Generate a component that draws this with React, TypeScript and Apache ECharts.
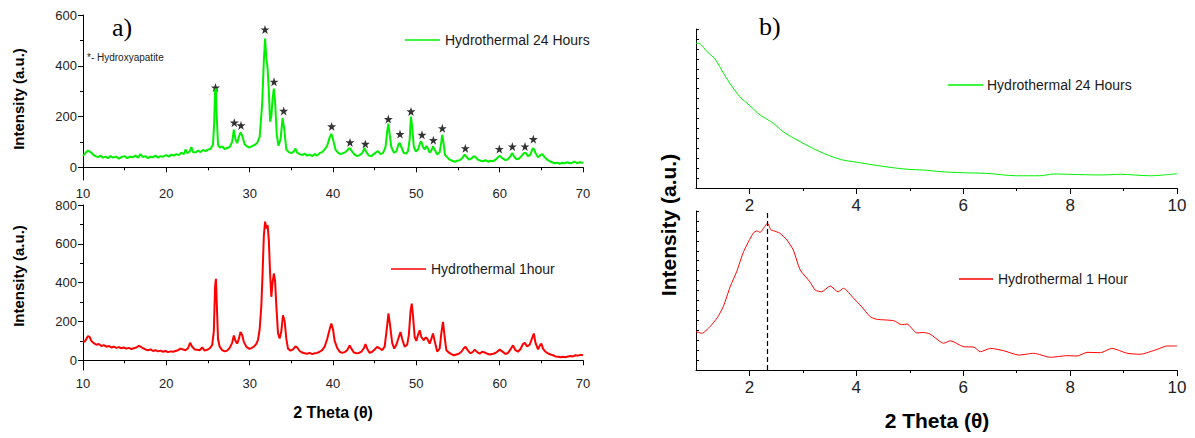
import React, { useEffect, useRef } from "react";
import * as echarts from "echarts";

// ---- Data ----
const xrd24h: [number, number][] = [
  [10.0,45],[10.2,52],[10.4,60],[10.6,66],[10.8,62],[11.0,58],[11.2,50],[11.5,44],[11.8,40],[12.1,46],[12.4,38],[12.7,42],[13.0,36],[13.3,44],[13.6,38],[14.0,42],[14.3,34],[14.6,40],[15.0,44],[15.3,36],[15.6,42],[16.0,40],[16.3,46],[16.6,38],[16.9,52],[17.2,40],[17.5,44],[17.8,36],[18.1,42],[18.4,40],[18.7,46],[19.0,38],[19.3,44],[19.6,42],[20.0,48],[20.3,42],[20.6,50],[20.9,46],[21.2,52],[21.5,48],[21.8,58],[22.1,52],[22.3,70],[22.5,56],[22.8,62],[23.0,80],[23.2,60],[23.5,58],[23.8,66],[24.1,60],[24.4,68],[24.7,64],[25.0,70],[25.3,72],[25.6,90],[25.75,180],[25.85,300],[25.95,310],[26.05,200],[26.2,90],[26.4,78],[26.7,82],[27.0,72],[27.3,76],[27.6,80],[27.9,100],[28.1,148],[28.3,110],[28.5,95],[28.7,120],[28.9,138],[29.1,125],[29.4,90],[29.7,82],[30.0,78],[30.3,84],[30.6,88],[30.9,96],[31.2,120],[31.5,250],[31.7,420],[31.85,507],[32.0,430],[32.15,390],[32.3,300],[32.45,180],[32.6,200],[32.75,270],[32.9,310],[33.05,260],[33.25,130],[33.45,85],[33.7,110],[33.95,194],[34.15,150],[34.4,70],[34.7,60],[35.0,56],[35.3,62],[35.5,74],[35.7,58],[36.0,52],[36.3,48],[36.6,54],[36.9,46],[37.2,50],[37.5,44],[37.8,52],[38.1,46],[38.4,56],[38.7,60],[39.0,70],[39.3,85],[39.6,118],[39.8,132],[40.0,110],[40.3,70],[40.6,58],[40.9,52],[41.2,56],[41.5,60],[41.8,70],[42.0,76],[42.3,62],[42.6,50],[42.9,44],[43.2,48],[43.5,56],[43.8,76],[44.0,60],[44.3,46],[44.6,44],[44.9,52],[45.2,60],[45.4,64],[45.7,52],[46.0,56],[46.3,80],[46.5,140],[46.65,172],[46.8,130],[47.0,80],[47.3,58],[47.6,62],[47.85,90],[48.0,96],[48.2,80],[48.5,56],[48.8,54],[49.0,64],[49.2,110],[49.35,200],[49.5,160],[49.7,80],[49.95,62],[50.2,70],[50.45,96],[50.6,102],[50.8,80],[51.0,70],[51.2,84],[51.4,74],[51.6,58],[51.8,66],[52.0,82],[52.2,70],[52.5,50],[52.8,60],[53.0,100],[53.1,128],[53.25,100],[53.45,48],[53.7,40],[54.0,30],[54.3,26],[54.6,22],[54.9,26],[55.2,28],[55.5,36],[55.8,50],[56.0,42],[56.3,30],[56.6,34],[56.9,44],[57.1,40],[57.4,30],[57.7,26],[58.0,24],[58.3,28],[58.6,22],[58.9,26],[59.2,24],[59.5,30],[59.8,40],[60.0,46],[60.3,36],[60.7,28],[61.0,32],[61.3,44],[61.5,56],[61.7,44],[62.0,32],[62.3,34],[62.6,44],[62.9,56],[63.1,58],[63.4,44],[63.7,50],[63.9,70],[64.05,76],[64.3,56],[64.6,40],[64.9,48],[65.1,52],[65.4,40],[65.7,30],[66.0,24],[66.3,20],[66.6,16],[66.9,18],[67.2,14],[67.5,18],[67.8,16],[68.1,20],[68.4,16],[68.7,18],[69.0,22],[69.3,16],[69.6,20],[70.0,18]
];

const xrd1h: [number, number][] = [
  [10.0,100],[10.2,95],[10.4,110],[10.6,125],[10.8,120],[11.0,100],[11.3,88],[11.6,80],[11.9,84],[12.2,74],[12.5,78],[12.8,70],[13.1,74],[13.4,66],[13.7,70],[14.0,64],[14.3,68],[14.6,62],[14.9,66],[15.2,60],[15.5,64],[15.8,58],[16.1,62],[16.4,66],[16.7,74],[16.9,70],[17.2,62],[17.5,56],[17.8,52],[18.1,56],[18.4,48],[18.7,52],[19.0,46],[19.3,50],[19.6,44],[19.9,48],[20.2,42],[20.5,46],[20.8,44],[21.1,48],[21.4,52],[21.7,60],[22.0,56],[22.3,52],[22.6,62],[22.85,90],[23.1,70],[23.4,56],[23.7,54],[24.0,52],[24.3,66],[24.6,50],[24.9,54],[25.2,62],[25.5,78],[25.7,150],[25.85,380],[25.95,420],[26.05,300],[26.2,110],[26.4,70],[26.7,52],[27.0,46],[27.3,50],[27.6,64],[27.9,90],[28.1,128],[28.3,100],[28.5,86],[28.7,110],[28.9,146],[29.1,130],[29.3,95],[29.6,70],[29.9,60],[30.2,62],[30.5,70],[30.8,85],[31.0,105],[31.2,160],[31.4,280],[31.55,450],[31.7,640],[31.85,714],[32.0,680],[32.15,697],[32.3,619],[32.45,450],[32.6,327],[32.75,400],[32.9,447],[33.05,410],[33.2,280],[33.4,140],[33.6,112],[33.8,150],[34.0,232],[34.2,200],[34.4,110],[34.6,60],[34.9,50],[35.2,56],[35.5,72],[35.7,66],[36.0,48],[36.3,40],[36.6,36],[36.9,34],[37.2,38],[37.5,32],[37.8,36],[38.1,38],[38.4,44],[38.7,52],[39.0,70],[39.3,110],[39.6,160],[39.8,190],[40.0,160],[40.2,100],[40.5,64],[40.8,44],[41.1,38],[41.4,42],[41.7,52],[42.0,77],[42.2,60],[42.5,40],[42.8,36],[43.1,38],[43.4,44],[43.7,62],[43.9,83],[44.1,60],[44.4,38],[44.7,44],[45.0,56],[45.3,69],[45.6,62],[45.9,52],[46.2,70],[46.45,160],[46.65,241],[46.85,180],[47.1,90],[47.35,60],[47.6,80],[47.9,120],[48.1,146],[48.3,110],[48.6,70],[48.9,80],[49.1,130],[49.3,250],[49.45,292],[49.6,230],[49.8,120],[50.0,100],[50.2,130],[50.4,155],[50.6,120],[50.9,103],[51.1,118],[51.3,112],[51.6,86],[51.8,110],[52.0,138],[52.2,100],[52.5,45],[52.8,60],[53.0,140],[53.2,198],[53.4,120],[53.6,52],[53.9,40],[54.2,32],[54.5,26],[54.8,30],[55.1,34],[55.4,44],[55.7,62],[55.9,69],[56.2,50],[56.5,36],[56.8,44],[57.0,55],[57.3,42],[57.6,34],[57.9,44],[58.2,40],[58.5,34],[58.8,30],[59.1,32],[59.4,36],[59.7,44],[60.0,55],[60.3,46],[60.7,32],[61.0,38],[61.3,56],[61.6,77],[61.9,52],[62.2,44],[62.5,58],[62.8,84],[63.0,90],[63.3,72],[63.6,80],[63.9,115],[64.1,138],[64.3,90],[64.6,56],[64.8,74],[65.0,86],[65.2,60],[65.5,44],[65.8,36],[66.1,30],[66.4,26],[66.7,20],[67.0,18],[67.3,16],[67.6,18],[67.9,16],[68.2,20],[68.5,22],[68.8,20],[69.1,26],[69.4,24],[69.7,28],[70.0,26]
];

// Hydroxyapatite peak markers (2θ, marker level)
const hapMarkers: [number, number][] = [
  [25.9,314],[28.16,176],[28.96,165],[31.84,543],[32.92,337],[34.08,222],[39.84,161],[42.04,98],[43.88,92],[46.64,190],[48.04,131],[49.36,220],[50.68,128],[52.04,107],[53.12,154],[55.88,75],[59.96,72],[61.52,82],[63.04,82],[64.04,111]
];

// Small-angle patterns (arbitrary units, 0-100)
const saxs24h: [number, number][] = [
  [1.0,91],[1.05,91],[1.2,86],[1.33,82],[1.38,80],[1.5,73],[1.63,66],[1.82,57.4],[2.0,52],[2.2,45.9],[2.45,40.7],[2.63,35.4],[2.95,29.1],[3.32,22.8],[3.7,18.0],[4.01,16.2],[4.32,14.5],[4.63,13.0],[4.95,11.8],[5.26,11.3],[5.57,10.3],[6.0,9.6],[6.44,9.2],[7.0,7.7],[7.44,7.7],[7.69,8.8],[8.0,8.6],[8.57,8.2],[8.94,8.6],[9.5,7.7],[10.0,9.0]
];

const saxs1h: [number, number][] = [
  [1.0,24.1],[1.11,23.1],[1.26,27.2],[1.4,33],[1.51,39.8],[1.64,52.4],[1.76,61.8],[1.89,74.4],[2.07,86.0],[2.14,87.5],[2.2,86.5],[2.25,88.5],[2.34,92.3],[2.4,88.1],[2.45,87.6],[2.57,86.0],[2.7,81.8],[2.82,75.5],[2.95,62.9],[3.13,55.5],[3.23,50.3],[3.35,49.2],[3.51,52.8],[3.66,49.2],[3.76,51.4],[3.95,45.1],[4.1,39.8],[4.26,33.5],[4.38,31.9],[4.7,31.0],[4.85,28.5],[4.95,28.9],[5.13,23.3],[5.25,23.6],[5.38,22.6],[5.57,17.8],[5.63,16.8],[5.76,18.4],[6.0,14.7],[6.2,14.4],[6.32,11.5],[6.51,13.6],[6.76,12.1],[7.04,9.4],[7.32,10.5],[7.63,8.0],[7.94,9.0],[8.13,8.8],[8.32,11.1],[8.57,10.9],[8.78,13.6],[9.07,10.5],[9.31,9.9],[9.63,13.0],[9.81,15.1],[10.0,15.1]
];

const peakMarker2Theta = 2.33;

const leftYTicksTop = [0, 200, 400, 600];
const leftYMinorTop = [100, 300, 500];
const leftYTicksBottom = [0, 200, 400, 600, 800];
const leftYMinorBottom = [100, 300, 500, 700];
const rightXTicks = [2, 4, 6, 8, 10];
const rightXMinor = [3, 5, 7, 9];

const SANS = "Liberation Sans";
const GREEN = "#00f000";
const RED = "#ff0000";
const STAR = "path://M5,0 L6.2,3.6 L10,3.6 L7,5.9 L8.1,9.5 L5,7.3 L1.9,9.5 L3,5.9 L0,3.6 L3.8,3.6 Z";

const axisLine = { show: true, lineStyle: { color: "#000", width: 1 } };

function leftX(gridIndex: number) {
  return {
    type: "value", gridIndex, position: "bottom", min: 10, max: 70, interval: 10,
    axisLine, splitLine: { show: false },
    axisTick: { show: true, length: 5, lineStyle: { color: "#000" } },
    minorTick: { show: true, splitNumber: 2, length: 3, lineStyle: { color: "#000" } },
    minorSplitLine: { show: false },
    axisLabel: { fontSize: 13, color: "#222", margin: 7, fontFamily: SANS, showMinLabel: true, showMaxLabel: true },
  };
}
function leftY(gridIndex: number, max: number, ticks: number[]) {
  return {
    type: "value", gridIndex, position: "left", min: -50, max,
    axisLine, splitLine: { show: false },
    axisTick: { show: true, length: 5, customValues: ticks, lineStyle: { color: "#000" } },
    axisLabel: { customValues: ticks, fontSize: 13, color: "#222", margin: 6, fontFamily: SANS },
  };
}
function minorY(gridIndex: number, max: number, ticks: number[]) {
  return {
    type: "value", gridIndex, position: "left", min: -50, max,
    axisLine: { show: false }, splitLine: { show: false },
    axisTick: { show: true, length: 3, customValues: ticks, lineStyle: { color: "#000" } },
    axisLabel: { show: false },
  };
}
function rightX(gridIndex: number) {
  return {
    type: "value", gridIndex, position: "bottom", min: 1, max: 10,
    axisLine, splitLine: { show: false },
    axisTick: { show: true, length: 6, customValues: rightXTicks, lineStyle: { color: "#000" } },
    axisLabel: { customValues: rightXTicks, fontSize: 17, color: "#222", margin: 9, fontFamily: SANS },
  };
}
function rightXMinorAxis(gridIndex: number) {
  return {
    type: "value", gridIndex, position: "bottom", min: 1, max: 10,
    axisLine: { show: false }, splitLine: { show: false },
    axisTick: { show: true, length: 3, customValues: rightXMinor, lineStyle: { color: "#000" } },
    axisLabel: { show: false },
  };
}
function rightY(gridIndex: number) {
  return {
    type: "value", gridIndex, position: "left", min: 0, max: 100, interval: 6.25,
    axisLine, splitLine: { show: false },
    axisTick: { show: true, inside: true, length: 3, lineStyle: { color: "#000" } },
    axisLabel: { show: false },
  };
}

function txt(x: number, y: number, text: string, size: number, opts: any = {}) {
  return {
    type: "text", x, y, rotation: opts.rotation || 0, silent: true,
    style: {
      text, fontSize: size, fontFamily: opts.family || SANS, fontWeight: opts.weight || "normal",
      fill: opts.fill || "#1a1a1a", align: opts.align || "left", verticalAlign: "middle",
    },
  };
}
function legLine(x1: number, x2: number, y: number, color: string) {
  return { type: "line", silent: true, shape: { x1, y1: y, x2, y2: y }, style: { stroke: color, lineWidth: 1.5 } };
}

export default function App() {
  const ref = useRef<HTMLDivElement>(null);
  useEffect(() => {
    if (!ref.current) return;
    const chart = echarts.init(ref.current, undefined, { renderer: "svg" });
    chart.setOption({
      animation: false,
      backgroundColor: "#fff",
      grid: [
        { left: 83, top: 15, width: 500, height: 165 },
        { left: 83, top: 205, width: 500, height: 165 },
        { left: 696, top: 29, width: 481, height: 159 },
        { left: 696, top: 211, width: 481, height: 159 },
      ],
      xAxis: [leftX(0), leftX(1), rightX(2), rightXMinorAxis(2), rightX(3), rightXMinorAxis(3)],
      yAxis: [
        leftY(0, 600, leftYTicksTop), minorY(0, 600, leftYMinorTop),
        leftY(1, 800, leftYTicksBottom), minorY(1, 800, leftYMinorBottom),
        rightY(2), rightY(3),
      ],
      series: [
        { type: "line", xAxisIndex: 0, yAxisIndex: 0, data: xrd24h, showSymbol: false, lineStyle: { color: GREEN, width: 2 }, itemStyle: { color: GREEN } },
        { type: "scatter", xAxisIndex: 0, yAxisIndex: 0, data: hapMarkers, symbol: STAR, symbolSize: 9, itemStyle: { color: "#000" } },
        { type: "line", xAxisIndex: 1, yAxisIndex: 2, data: xrd1h, showSymbol: false, lineStyle: { color: RED, width: 2 }, itemStyle: { color: RED } },
        { type: "line", xAxisIndex: 2, yAxisIndex: 4, data: saxs24h, showSymbol: false, smooth: 0.3, lineStyle: { color: GREEN, width: 1 }, itemStyle: { color: GREEN } },
        {
          type: "line", xAxisIndex: 4, yAxisIndex: 5, data: saxs1h, showSymbol: false, smooth: 0.2, lineStyle: { color: RED, width: 1 }, itemStyle: { color: RED },
          markLine: { silent: true, symbol: ["none", "none"], label: { show: false }, lineStyle: { color: "#000", type: [5, 3], width: 1.2 }, data: [{ xAxis: peakMarker2Theta }] },
        },
      ],
      graphic: [
        txt(112, 27, "a)", 26, { family: "Liberation Serif", fill: "#000" }),
        txt(759, 26, "b)", 26, { family: "Liberation Serif", fill: "#000" }),
        txt(87, 57, "*- Hydroxyapatite", 10, { fill: "#222" }),
        legLine(405, 440, 40, GREEN), txt(445, 40, "Hydrothermal 24 Hours", 14),
        legLine(391, 426, 269, RED), txt(431, 269, "Hydrothermal 1hour", 14),
        legLine(948, 983, 85, GREEN), txt(987, 85, "Hydrothermal 24 Hours", 14),
        legLine(959, 993, 279, RED), txt(998, 279, "Hydrothermal 1 Hour", 14),
        txt(18, 99, "Intensity (a.u.)", 15, { weight: "bold", align: "center", rotation: Math.PI / 2, fill: "#000" }),
        txt(18, 276, "Intensity (a.u.)", 15, { weight: "bold", align: "center", rotation: Math.PI / 2, fill: "#000" }),
        txt(333, 412, "2 Theta (θ)", 16, { weight: "bold", align: "center", fill: "#000" }),
        txt(668, 225, "Intensity (a.u.)", 21, { weight: "bold", align: "center", rotation: Math.PI / 2, fill: "#000" }),
        txt(937, 420, "2 Theta (θ)", 21, { weight: "bold", align: "center", fill: "#000" }),
      ],
    });
    return () => chart.dispose();
  }, []);
  return <div ref={ref} style={{ position: "absolute", left: 0, top: 0, width: 1195, height: 438 }} />;
}
